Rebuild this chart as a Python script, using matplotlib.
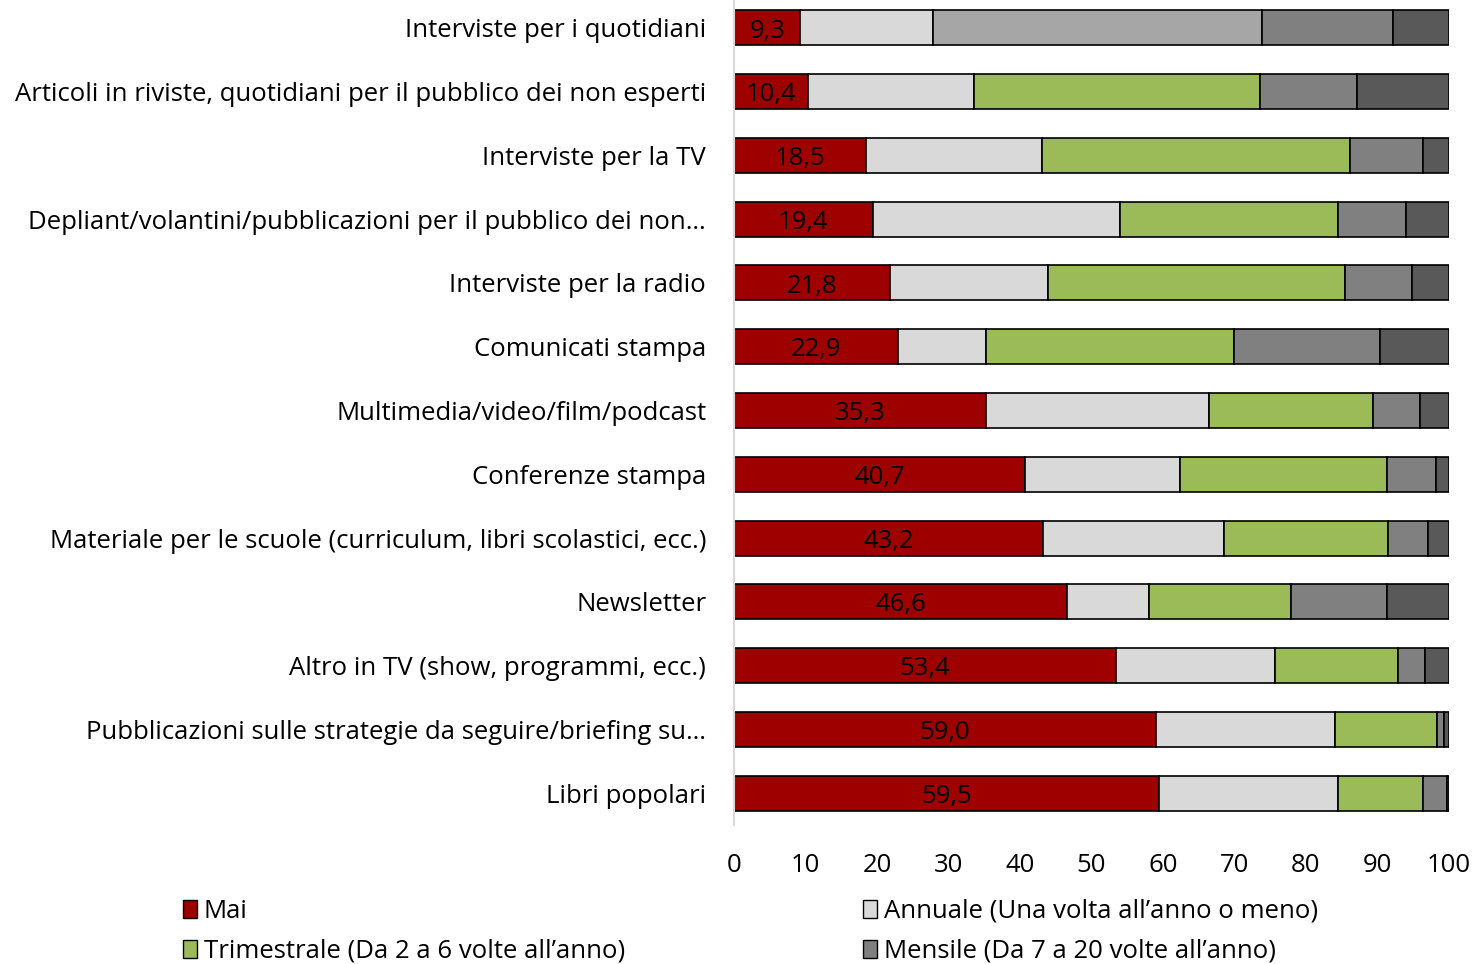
import matplotlib
matplotlib.use("Agg")
import matplotlib.pyplot as plt
from matplotlib.patches import Patch

plt.rcParams['font.family'] = ['Open Sans', 'DejaVu Sans']

categorie = [
    "Interviste per i quotidiani",
    "Articoli in riviste, quotidiani per il pubblico dei non esperti",
    "Interviste per la TV",
    "Depliant/volantini/pubblicazioni per il pubblico dei non…",
    "Interviste per la radio",
    "Comunicati stampa",
    "Multimedia/video/film/podcast",
    "Conferenze stampa",
    "Materiale per le scuole (curriculum, libri scolastici, ecc.)",
    "Newsletter",
    "Altro in TV (show, programmi, ecc.)",
    "Pubblicazioni sulle strategie da seguire/briefing su…",
    "Libri popolari",
]

mai = [9.3, 10.4, 18.5, 19.4, 21.8, 22.9, 35.3, 40.7, 43.2, 46.6, 53.4, 59.0, 59.5]
annuale = [18.6, 23.1, 24.6, 34.6, 22.1, 12.3, 31.1, 21.7, 25.3, 11.5, 22.2, 25.0, 25.0]
trimestrale = [46.0, 40.0, 43.0, 30.5, 41.6, 34.7, 23.0, 28.9, 22.9, 19.8, 17.2, 14.3, 11.8]
mensile = [18.3, 13.7, 10.2, 9.5, 9.3, 20.5, 6.5, 6.9, 5.6, 13.4, 3.9, 1.0, 3.4]
settimanale = [7.8, 12.8, 3.7, 6.0, 5.2, 9.6, 4.1, 1.8, 3.0, 8.7, 3.3, 0.7, 0.3]

serie = ["Mai", "Annuale (Una volta all’anno o meno)",
         "Trimestrale (Da 2 a 6 volte all’anno)",
         "Mensile (Da 7 a 20 volte all’anno)"]
colori = ["#9e0000", "#d9d9d9", "#9bbb59", "#808080", "#595959"]

fs = 18.5

fig = plt.figure(figsize=(14.74, 9.64), dpi=100)
ax = fig.add_axes([734 / 1474, 1 - 825 / 964, 715 / 1474, 829 / 964])

y = list(range(len(categorie)))
dati = [mai, annuale, trimestrale, mensile, settimanale]
left = [0.0] * len(categorie)
for i, vals in enumerate(dati):
    cols = [colori[i]] * len(categorie)
    if i == 2:
        cols[0] = "#a6a6a6"  # prima barra in grigio nell'originale
    ax.barh(y, vals, left=left, height=0.55, color=cols,
            edgecolor="black", linewidth=1.2)
    left = [l + v for l, v in zip(left, vals)]

for yi, v in zip(y, mai):
    ax.text(v / 2, yi + 0.05, f"{v:.1f}".replace(".", ","), ha="center",
            va="center", fontsize=fs, color="black")

ax.set_xlim(0, 100)
ax.set_ylim(len(categorie) - 0.5, -0.5)
ax.set_xticks(range(0, 101, 10))
ax.set_yticks(y)
ax.set_yticklabels(categorie)
ax.tick_params(axis="y", length=0, pad=20, labelsize=fs)
ax.tick_params(axis="x", length=0, pad=20, labelsize=fs)
for s in ["top", "right", "bottom"]:
    ax.spines[s].set_visible(False)
ax.spines["left"].set_color("#d9d9d9")
ax.spines["left"].set_linewidth(1.5)

h = [Patch(facecolor=c, edgecolor="black", linewidth=1) for c in colori]
leg_kw = dict(loc="upper left", frameon=False, fontsize=fs, handlelength=0.55,
              handleheight=0.75, handletextpad=0.25, labelspacing=0.58,
              borderaxespad=0, borderpad=0)
fig.legend([h[0], h[2]], [serie[0], serie[2]],
           bbox_to_anchor=(183 / 1474, 1 - 899 / 964), **leg_kw)
fig.legend([h[1], h[3]], [serie[1], serie[3]],
           bbox_to_anchor=(863 / 1474, 1 - 899 / 964), **leg_kw)

fig.savefig("out.png", dpi=100)
